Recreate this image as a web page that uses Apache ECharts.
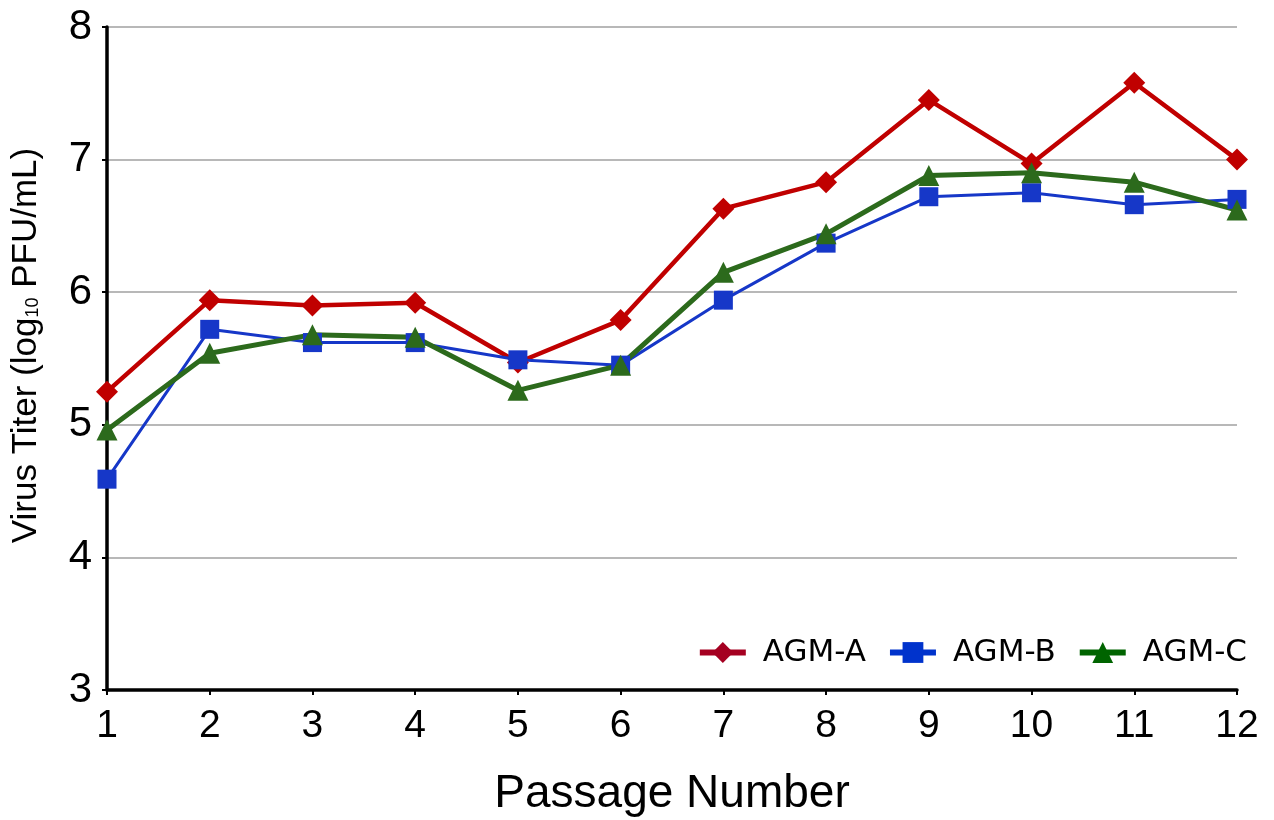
<!DOCTYPE html>
<html>
<head>
<meta charset="utf-8">
<script src="https://cdn.jsdelivr.net/npm/echarts@6/dist/echarts.min.js"></script>
<style>
  html, body { margin: 0; padding: 0; background: #fff; }
  #chart { width: 1274px; height: 820px; }
</style>
</head>
<body>
<div id="chart"></div>
<script>
var passages = ['1', '2', '3', '4', '5', '6', '7', '8', '9', '10', '11', '12'];
var agmA = [5.25, 5.94, 5.90, 5.92, 5.47, 5.79, 6.63, 6.83, 7.45, 6.97, 7.58, 7.00];
var agmB = [4.59, 5.72, 5.62, 5.62, 5.49, 5.45, 5.94, 6.37, 6.72, 6.75, 6.66, 6.70];
var agmC = [4.96, 5.54, 5.68, 5.66, 5.26, 5.45, 6.15, 6.44, 6.88, 6.90, 6.83, 6.62];
var yTicks = [3, 4, 5, 6, 7, 8];

var chart = echarts.init(document.getElementById('chart'));

function line(name, data, color, width, symbol, size) {
  return {
    name: name,
    type: 'line',
    data: data,
    symbol: symbol,
    symbolSize: size,
    lineStyle: { color: color, width: width },
    itemStyle: { color: color },
    z: 3
  };
}

// legend swatches are a touch darker than the plotted lines
function legendItem(name, color) {
  return { name: name, itemStyle: { color: color }, lineStyle: { color: color, width: 6 } };
}

chart.setOption({
  animation: false,
  backgroundColor: '#fff',
  grid: { left: 107, right: 37, top: 27, bottom: 130, outerBoundsMode: 'none' },
  legend: {
    right: 22,
    top: 632,
    itemWidth: 46,
    itemHeight: 26,
    itemGap: 21,
    textStyle: { fontFamily: 'DejaVu Sans', fontSize: 31, color: '#000', padding: [0, 0, 0, 12] },
    data: [
      legendItem('AGM-A', '#a50021'),
      legendItem('AGM-B', '#0033cc'),
      legendItem('AGM-C', '#006400')
    ]
  },
  xAxis: {
    type: 'category',
    data: passages,
    boundaryGap: false,
    name: 'Passage Number',
    nameLocation: 'middle',
    nameGap: 81,
    nameTextStyle: { fontFamily: 'Liberation Sans', fontSize: 46, color: '#000' },
    axisLine: { lineStyle: { color: '#000', width: 3.5 } },
    axisTick: { show: true, length: 5, lineStyle: { color: '#000', width: 2 } },
    axisLabel: { fontFamily: 'Liberation Sans', fontSize: 39, color: '#000', margin: 17 },
    splitLine: { show: false }
  },
  yAxis: {
    type: 'value',
    min: yTicks[0],
    max: yTicks[yTicks.length - 1],
    interval: 1,
    name: 'Virus Titer (log{sub|10} PFU/mL)',
    nameLocation: 'middle',
    nameGap: 63,
    nameTextStyle: {
      fontFamily: 'Liberation Sans', fontSize: 35, color: '#000',
      padding: [0, 0, 0, 26],
      rich: { sub: { fontFamily: 'Liberation Sans', fontSize: 18, color: '#000', padding: [14, 0, 0, 0] } }
    },
    axisLine: { show: true, lineStyle: { color: '#000', width: 3.5 } },
    axisTick: { show: true, length: 5, lineStyle: { color: '#000', width: 2 } },
    axisLabel: { fontFamily: 'Liberation Sans', fontSize: 42, color: '#000', margin: 15 },
    splitLine: { show: true, lineStyle: { color: '#b8b8b8', width: 2 } }
  },
  series: [
    line('AGM-A', agmA, '#c00000', 4.5, 'diamond', 22),
    line('AGM-B', agmB, '#1637c8', 3, 'rect', 19),
    line('AGM-C', agmC, '#2c6a1c', 5, 'triangle', 21)
  ]
});
</script>
</body>
</html>
